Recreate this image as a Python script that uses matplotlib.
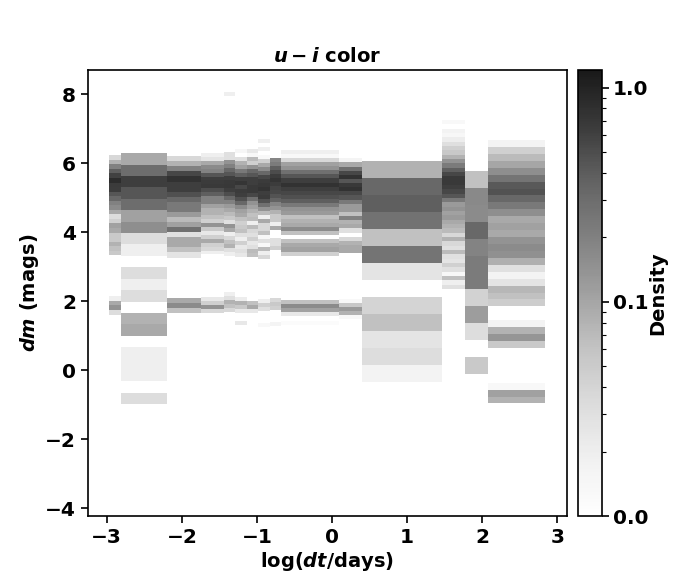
import matplotlib
matplotlib.use('Agg')
import matplotlib.pyplot as plt
import numpy as np
from matplotlib.colors import LogNorm
from matplotlib.ticker import FixedLocator, FormatStrFormatter

plt.rcParams.update({
    'font.family': 'DejaVu Sans', 'font.weight': 'bold',
    'axes.labelweight': 'bold', 'axes.titleweight': 'bold',
    'mathtext.fontset': 'custom', 'mathtext.rm': 'DejaVu Sans:bold',
    'mathtext.it': 'DejaVu Sans:italic:bold', 'mathtext.bf': 'DejaVu Sans:bold',
})

# log(dt) bin edges
log_dt_edges = [-2.97, -2.81, -2.20, -1.75, -1.44, -1.29, -1.13, -0.99, -0.83,
                -0.68, 0.09, 0.40, 1.47, 1.77, 2.08, 2.84]

# top dm edge and dm bin size of each log(dt) column
dm_tops = [6.23, 6.29, 6.20, 6.29, 8.06, 6.41, 6.41, 6.70, 6.14, 6.38, 6.14, 6.06, 7.25, 5.77, 6.67]
dm_steps = [.132, .331, .1468, .113, .116, .116, .116, .116, .116, .1177, .1197, .4928, .1256, .49, .201]

# density in each dm bin, top to bottom, for each column
col01 = [.037, .081, .2, .39, .6, .85, .66, .65, .44, .33, .2, .165, .094, .033, .045, .11, .094, .052,
         .052, .081, .062, .052, 0, 0, 0, 0, 0, 0, 0, 0, 0, .019, .094, .142, .033]
col02 = [.094, .3, .62, .44, .3, .11, .155, .033, .019, 0, .033, .019, .033, 0, .081, .094, 0,
         .019, .019, .019, 0, .033]
col03 = [.037, .081, .2, .55, .78, .62, .62, .48, .33, .23, .23, .125, .07, .11, .28, .03, .094, .094,
         .062, .026, 0, 0, 0, 0, 0, 0, 0, 0, .094, .165, .062]
col04 = [.019, .027, .094, .165, .19, .44, .62, .66, .68, .5, .39, .2, .2, .11, .081, .081, .062, .045,
         .142, .052, .024, .045, .094, .045, .037, .019, 0, 0, 0, 0, 0, 0, 0, 0, 0, 0, 0,
         .024, .045, .142, .037]
col05 = [.019, 0, 0, 0, 0, 0, 0, 0, 0, 0, 0, 0, 0, 0, 0, .03, .03, .142, .2, .33, .44, .62, .68, .7, .62,
         .5, .33, .2, .125, .094, .07, .052, .03, .142, .094, .019, .037, .062, .081, .03, .019,
         0, 0, 0, 0, 0, 0, 0, 0, 0, .019, .03, .081, .062, .037]
col06 = [.015, 0, .03, .081, .11, .23, .39, .62, .72, .55, .66, .62, .48, .33, .165, .11, .094, .062, .045,
         .052, .062, .03, .019, .045, .024, .03, .024, 0, 0, 0, 0, 0, 0, 0, 0, 0, 0,
         .02, .081, .052, .024, 0, 0, .024]
col07 = [.024, .013, .07, .045, .142, .33, .44, .62, .62, .68, .68, .55, .28, .142, .11, .081, .062, .07,
         .019, .07, .037, .03, .045, .024, .03, .07, .062, 0, 0, 0, 0, 0, 0, 0, 0, 0, 0, 0, .062, .094, .024]
col08 = [.019, 0, .019, 0, .013, .045, .094, .165, .33, .55, .66, .7, .75, .62, .66, .48, .28, .142, .07,
         .019, .094, .037, .037, .062, .013, .03, .013, .07, .019, .037, 0, 0, 0, 0, 0, 0, 0, 0, 0, 0,
         .019, .045, .03, 0, 0, 0, .013]
col09 = [.18, .22, .38, .52, .64, .74, .64, .58, .55, .46, .36, .19, .142, .081, .052, .052, .019, .094,
         0, 0, .03, .03, .045, 0, 0, 0, 0, 0, 0, 0, 0, 0, 0, 0, 0, .037, .052, .045, 0, 0, 0, .016]
col10 = [.019, .013, .037, .11, .142, .28, .44, .62, .78, .62, .55, .48, .39, .23, .142, .125, .062, .081,
         .094, .165, .062, 0, .062, .094, .11, .045, 0, 0, 0, 0, 0, 0, 0, 0, 0, 0, 0,
         .062, .165, .11, .024, 0, .012]
col11 = [.016, .094, .28, .55, .78, .44, .68, .78, .55, .44, .23, .125, .125, .062, .2, .081, .094, .03,
         0, .037, .081, .094, .094, 0, 0, 0, 0, 0, 0, 0, 0, 0, 0, 0, .013, .055, .125, .081, .013]
col12 = [.081, .33, .39, .27, .062, .26, .027, 0, .04, .062, .027, .033, .017]
col13 = [.013, 0, .017, .014, .021, .031, .045, .055, .081, .142, .22, .39, .55, .68, .68, .62, .55, .44,
         .23, .125, .142, .11, .125, .094, .081, .07, .037, .081, .037, .03, .07, .03, .027, .045, .03,
         .013, .062, .019, .03]
col14 = [.062, .17, .165, .32, .19, .22, .22, .042, .115, .032, 0, .052]
col15 = [.017, .045, .07, .1, .155, .26, .42, .47, .33, .23, .155, .094, .11, .094, .142, .165, .15, .085,
         .03, .017, .027, .075, .062, .048, 0, 0, .017, .081, .135, .052, 0, 0, 0, 0, 0, .013, .11, .081]
columns = [col01, col02, col03, col04, col05, col06, col07, col08, col09, col10,
           col11, col12, col13, col14, col15]

W, H = 700, 580
fig = plt.figure(figsize=(W / 100, H / 100), dpi=100)
ax = fig.add_axes([88 / W, (H - 516) / H, 479 / W, 446 / H])
cax = fig.add_axes([578 / W, (H - 516) / H, 24 / W, 446 / H])

norm = LogNorm(vmin=0.01, vmax=1.21)
mesh = None
for i, vals in enumerate(columns):
    v = np.ma.masked_equal(np.array(vals, dtype=float), 0)
    y_edges = dm_tops[i] - dm_steps[i] * np.arange(len(vals) + 1)
    mesh = ax.pcolormesh(log_dt_edges[i:i + 2], y_edges, v[:, None], cmap='Greys', norm=norm,
                         alpha=0.9, shading='flat', antialiased=False, linewidth=0)

ax.set_xlim(-3.25, 3.13)
ax.set_ylim(-4.23, 8.70)
ax.set_xticks([-3, -2, -1, 0, 1, 2, 3])
ax.set_yticks([-4, -2, 0, 2, 4, 6, 8])
ax.tick_params(axis='both', labelsize=14.5, width=1.2, length=5)
ax.set_xlabel(r'log($dt$/days)', fontsize=14, labelpad=2)
ax.set_ylabel(r'$dm$ (mags)', fontsize=14, labelpad=3)
ax.set_title(r'$u-i$ color', fontsize=14, pad=6)
for s in ax.spines.values():
    s.set_linewidth(1.2)

cb = fig.colorbar(mesh, cax=cax, format=FormatStrFormatter('%.1f'))
cb.set_ticks([0.01, 0.1, 1.0])
cb.ax.yaxis.set_minor_locator(FixedLocator(
    [0.02, 0.03, 0.04, 0.05, 0.06, 0.07, 0.08, 0.09, 0.2, 0.3, 0.4, 0.5, 0.6, 0.7, 0.8, 0.9]))
cb.ax.tick_params(which='major', labelsize=14.5, width=1.2, length=5, pad=3)
cb.ax.tick_params(which='minor', width=0.8, length=3)
cb.outline.set_linewidth(1.2)
cb.solids.set_antialiased(True)
cb.set_label('Density', fontsize=14, labelpad=0)

fig.savefig('out.png', dpi=100)
